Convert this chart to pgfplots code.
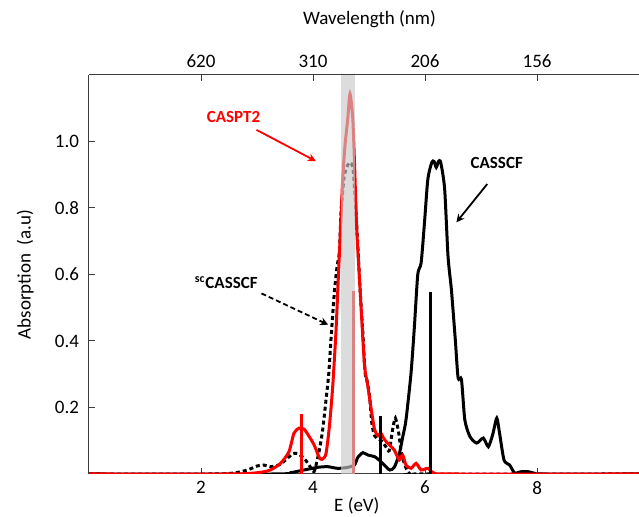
\documentclass[border=0pt]{standalone}
\usepackage{pgfplots}
\pgfplotsset{compat=1.18}
\usepackage{fontspec}
\setmainfont{Carlito}
\usetikzlibrary{arrows.meta}
\definecolor{bandgray}{RGB}{201,201,201}
\definecolor{axgray}{RGB}{60,60,60}
\begin{document}
\begin{tikzpicture}[font=\fontsize{9.5}{11}\selectfont]
\useasboundingbox (-44.5pt,-21.5pt) rectangle (275pt,237pt);
\begin{axis}[
  at={(0pt,0pt)}, anchor=south west,
  scale only axis, width=275pt, height=199.5pt,
  xmin=0, xmax=9.82, ymin=0, ymax=1.2,
  axis x line*=bottom, axis y line*=left,
  axis line style={-, axgray, line width=0.5pt},
  tick style={axgray, line width=0.5pt},
  major tick length=3pt,
  xtick={2,4,6,8}, xticklabels={2,4,6,8},
  ytick={0.2,0.4,0.6,0.8,1.0},
  yticklabel style={xshift=-1.5pt,/pgf/number format/fixed,/pgf/number format/fixed zerofill,/pgf/number format/precision=1},
  /pgf/number format/assume math mode=true,
  xlabel={E (eV)}, ylabel={Absorption\ \ (a.u)},
  every axis x label/.style={at={(axis description cs:0.487,0)}, anchor=center, yshift=-16pt},
  every axis y label/.style={at={(axis description cs:-0.116,0.5)}, anchor=center, rotate=90},
  clip=true,
]
% CASSCF (black solid)
\addplot[black, line width=1.5pt, smooth, tension=0.4] coordinates {
(0,0) (3.3,0) (3.6,0.004) (3.78,0.01) (3.9,0.014) (4.08,0.02) (4.26,0.022) (4.44,0.017) (4.62,0.02) (4.74,0.027) (4.80,0.05) (4.89,0.064) (4.98,0.057) (5.10,0.052) (5.18,0.042) (5.27,0.027) (5.37,0.012) (5.45,0.02) (5.54,0.06) (5.60,0.11) (5.66,0.163) (5.75,0.304) (5.81,0.444) (5.87,0.6) (5.93,0.635) (5.99,0.756) (6.05,0.887) (6.12,0.937) (6.16,0.94) (6.20,0.922) (6.24,0.94) (6.28,0.937) (6.35,0.857) (6.41,0.655) (6.47,0.555) (6.54,0.404) (6.59,0.289) (6.65,0.284) (6.71,0.163) (6.80,0.113) (6.92,0.093) (7.04,0.108) (7.13,0.082) (7.21,0.12) (7.28,0.168) (7.33,0.123) (7.41,0.042) (7.51,0.027) (7.6,0.003) (7.72,0.007) (7.84,0.007) (7.96,0.002) (8.1,0) (9.82,0)};
% scCASSCF (black dotted)
\addplot[black, line width=1.5pt, dash pattern=on 2pt off 1.5pt, smooth, tension=0.4] coordinates {
(0,0) (2.2,0) (2.59,0.003) (2.83,0.012) (3.0,0.024) (3.12,0.027) (3.24,0.022) (3.39,0.027) (3.51,0.042) (3.63,0.06) (3.72,0.062) (3.84,0.047) (3.93,0.027) (4.02,0.008) (4.11,0.07) (4.17,0.13) (4.23,0.22) (4.28,0.3) (4.32,0.404) (4.38,0.545) (4.43,0.625) (4.47,0.666) (4.50,0.786) (4.55,0.887) (4.59,0.917) (4.65,0.937) (4.71,0.922) (4.75,0.837) (4.80,0.686) (4.84,0.555) (4.89,0.424) (4.93,0.304) (4.96,0.284) (5.01,0.233) (5.05,0.153) (5.10,0.115) (5.22,0.100) (5.30,0.082) (5.36,0.07) (5.42,0.133) (5.47,0.168) (5.53,0.123) (5.57,0.07) (5.63,0.032) (5.72,0.002) (6,0) (9.82,0)};
% CASPT2 (red)
\addplot[red, line width=1.5pt, smooth, tension=0.4] coordinates {
(0,0) (2.5,0) (2.89,0.002) (3.1,0.006) (3.24,0.012) (3.42,0.032) (3.57,0.067) (3.66,0.123) (3.75,0.138) (3.84,0.135) (3.93,0.113) (4.02,0.087) (4.11,0.05) (4.16,0.044) (4.23,0.06) (4.29,0.14) (4.35,0.26) (4.41,0.43) (4.45,0.585) (4.49,0.736) (4.53,0.887) (4.57,0.987) (4.62,1.068) (4.66,1.143) (4.71,1.068) (4.74,0.937) (4.78,0.736) (4.83,0.585) (4.87,0.465) (4.92,0.324) (4.98,0.263) (5.04,0.193) (5.10,0.133) (5.16,0.115) (5.21,0.123) (5.27,0.105) (5.33,0.093) (5.45,0.072) (5.54,0.042) (5.60,0.057) (5.66,0.027) (5.75,0.017) (5.84,0.032) (5.93,0.012) (6.05,0.017) (6.17,0.002) (6.5,0) (9.82,0)};
% sticks
\addplot[red, line width=1.5pt, ycomb] coordinates {(4.72,0.55)};
% highlighted band
\addplot[draw=none, fill=bandgray, fill opacity=0.65] coordinates {(4.5,0) (4.5,1.2) (4.75,1.2) (4.75,0)} -- cycle;
\addplot[red, line width=1.5pt, ycomb] coordinates {(3.79,0.18)};
\addplot[black, line width=1.5pt, ycomb] coordinates {(5.2,0.175) (6.1,0.548)};
% annotations
\node[red, font=\fontsize{8.5}{10}\selectfont\bfseries] at (axis cs:2.58,1.074) {CASPT2};
\draw[red, line width=0.9pt, -{Stealth[length=4pt,width=4pt]}] (axis cs:2.99,1.035) -- (axis cs:4.05,0.941);
\node[black, font=\fontsize{8.5}{10}\selectfont\bfseries] at (axis cs:2.45,0.576) {\textsuperscript{sc}CASSCF};
\draw[black, line width=0.9pt, dash pattern=on 2.5pt off 1.5pt, -{Stealth[length=4pt,width=4pt]}] (axis cs:3.08,0.543) -- (axis cs:4.27,0.449);
\node[black, font=\fontsize{8.5}{10}\selectfont\bfseries] at (axis cs:7.28,0.935) {CASSCF};
\draw[black, line width=0.9pt, -{Stealth[length=4pt,width=4pt]}] (axis cs:7.11,0.872) -- (axis cs:6.56,0.757);
\end{axis}
\begin{axis}[
  at={(0pt,0pt)}, anchor=south west,
  scale only axis, width=275pt, height=199.5pt,
  xmin=0, xmax=9.82, ymin=0, ymax=1.2,
  axis x line*=top, axis y line=none,
  axis line style={-, axgray, line width=0.5pt},
  tick style={axgray, line width=0.5pt},
  major tick length=3pt,
  xtick={2,4,6,8}, xticklabels={620,310,206,156},
  xticklabel pos=right,
  xlabel={Wavelength (nm)},
  every axis x label/.style={at={(axis description cs:0.51,1)}, anchor=center, yshift=28pt},
]
\end{axis}
\end{tikzpicture}
\end{document}
